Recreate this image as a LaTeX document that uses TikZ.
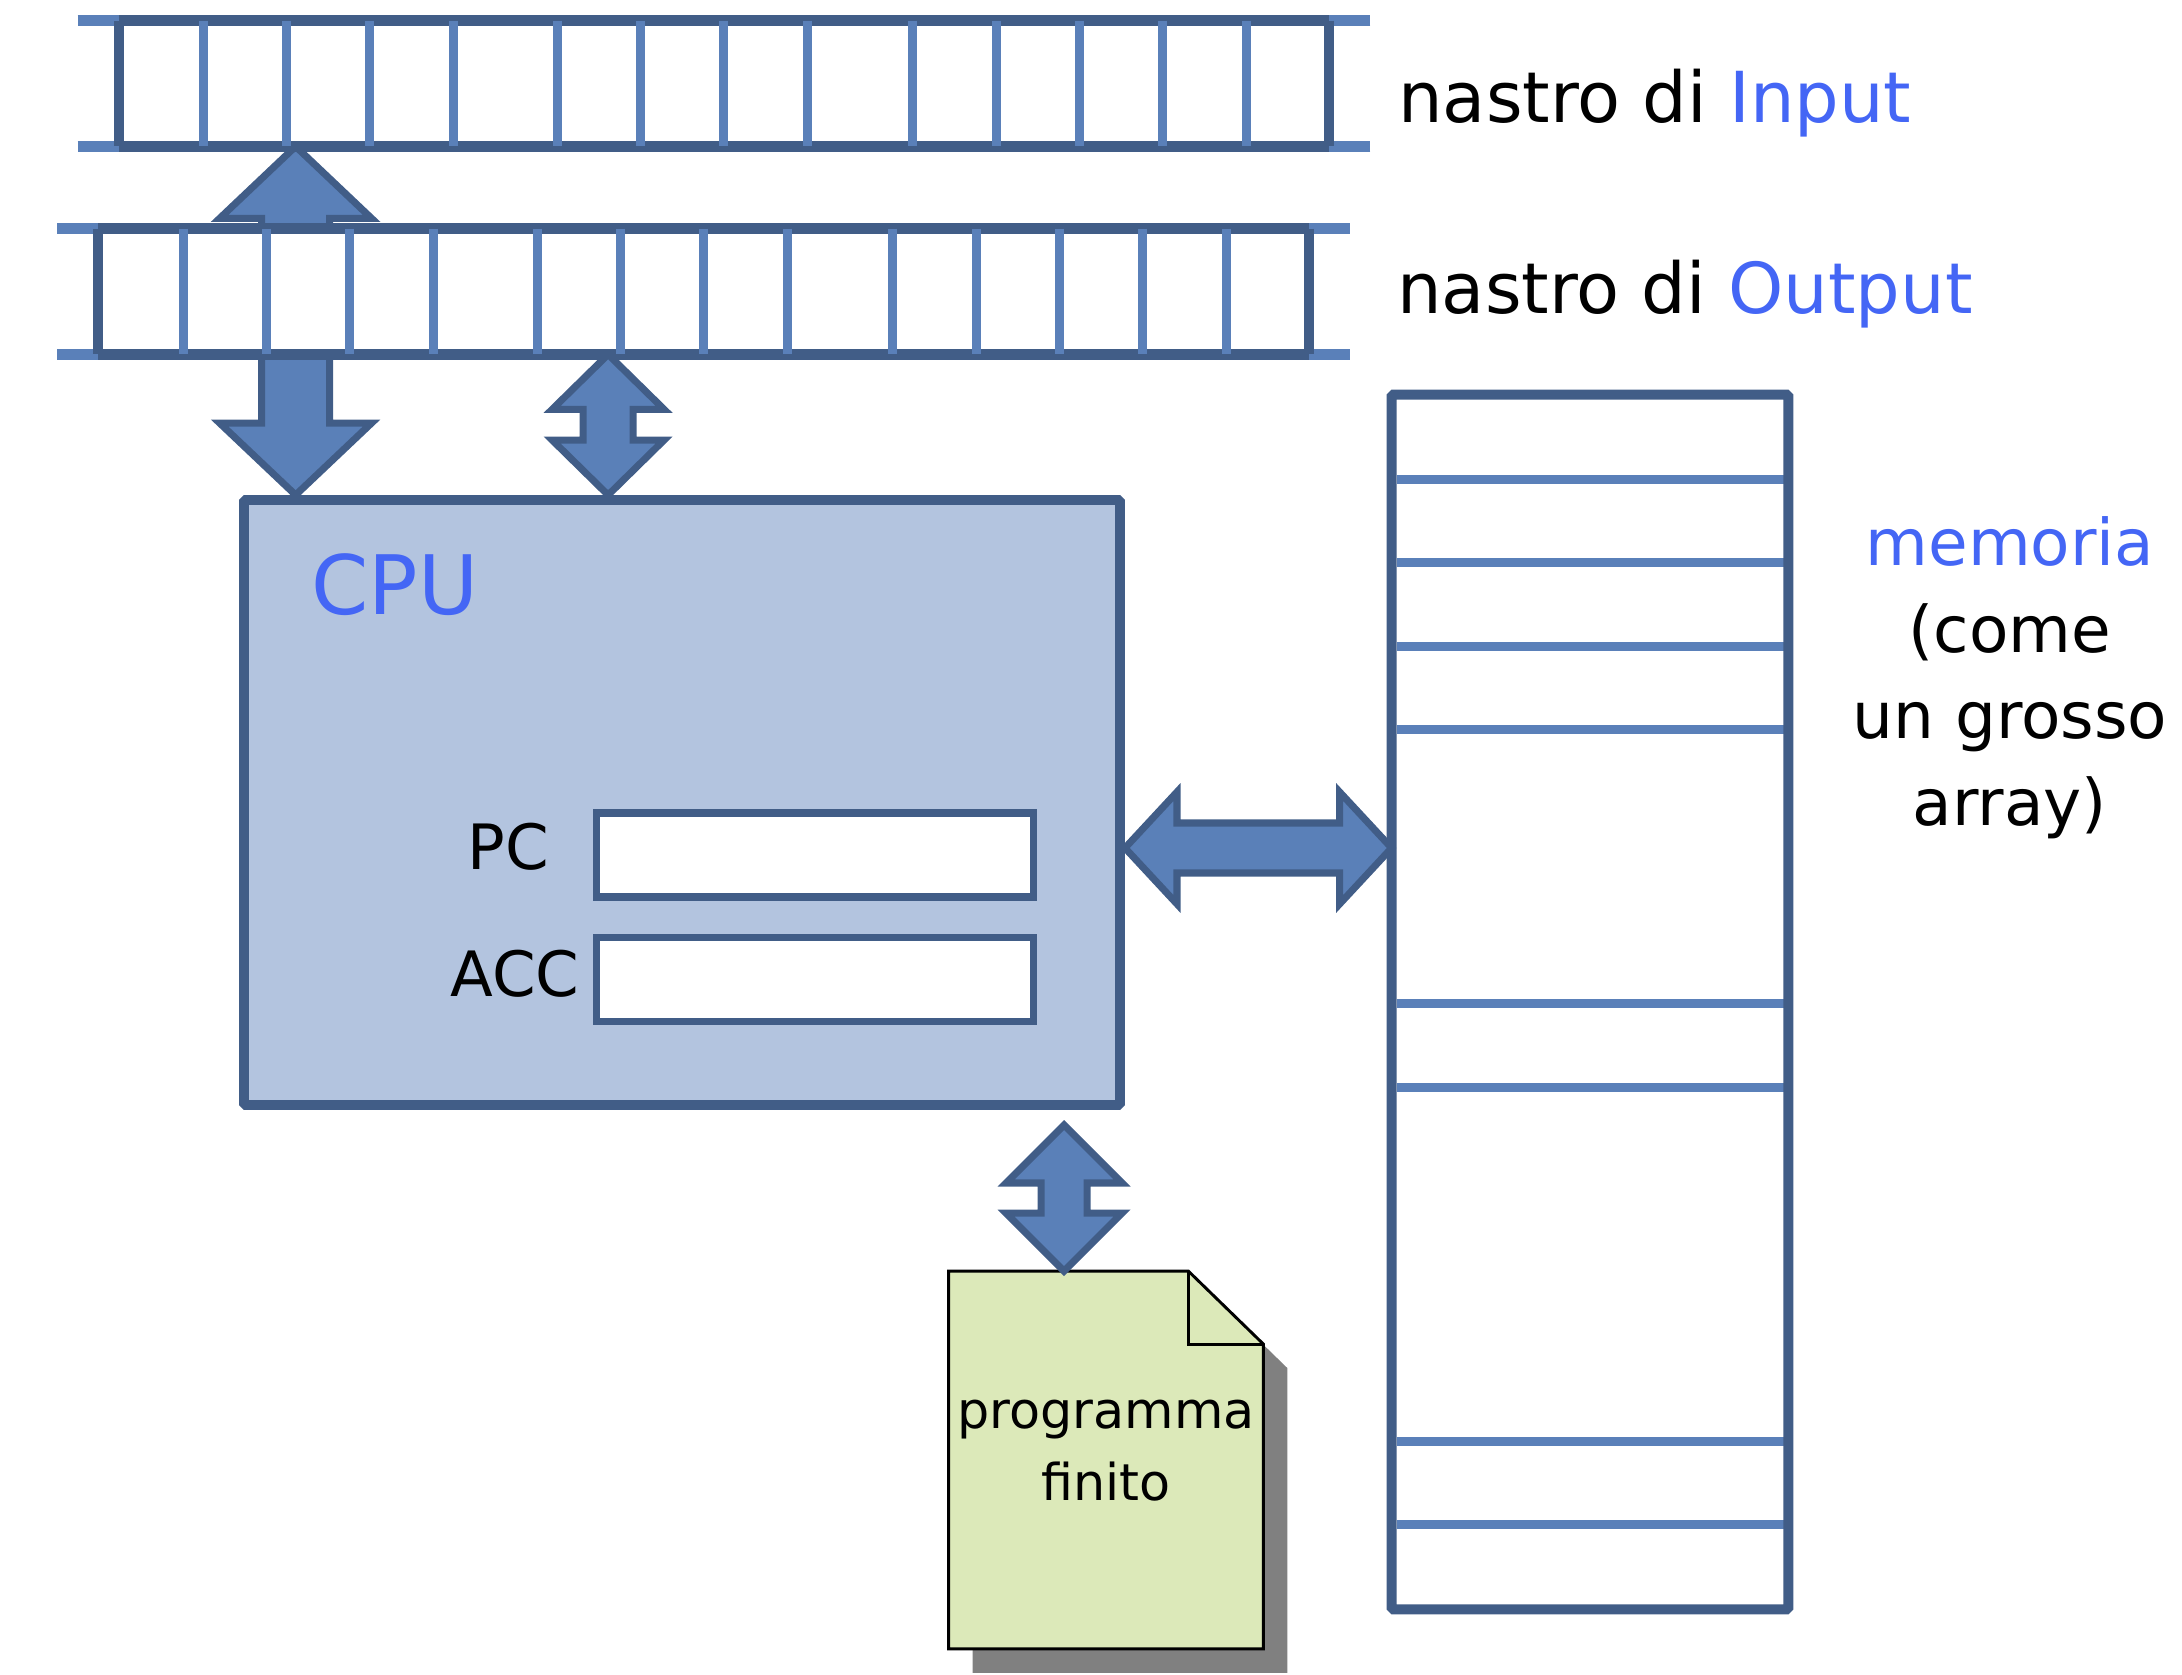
\documentclass[tikz,border=0pt]{standalone}
\usepackage{fontspec}
\setmainfont{DejaVu Sans}
\usetikzlibrary{positioning,calc}
\definecolor{tapedark}{HTML}{415D87}
\definecolor{tapelight}{HTML}{5A80B9}
\definecolor{arrowfill}{HTML}{5A80B8}
\definecolor{cpufill}{HTML}{B3C4DF}
\definecolor{labelblue}{HTML}{4466F5}
\definecolor{progfill}{HTML}{DCE9B9}

\tikzset{
  tapecells/.style={fill=white, inner sep=0pt, minimum width=1210*0.18mm, minimum height=125*0.18mm},
  tapeline/.style={tapedark, line width=5.6pt},
  tapeend/.style={tapelight, line width=5.6pt},
  tapediv/.style={tapelight, line width=4.6pt},
  tapeborder/.style={tapedark, line width=5.1pt},
  fatarrow/.style={fill=arrowfill, draw=tapedark, line width=3.6pt, line join=miter},
  cpubox/.style={fill=cpufill, draw=tapedark, line width=5.1pt, inner sep=0pt, rounded corners=1pt,
    minimum width=876*0.18mm, minimum height=605*0.18mm},
  regbox/.style={fill=white, draw=tapedark, line width=3.6pt, inner sep=0pt,
    minimum width=437*0.18mm, minimum height=84*0.18mm},
  membox/.style={fill=white, inner sep=0pt, minimum width=396*0.18mm, minimum height=1214*0.18mm},
  memdiv/.style={tapelight, line width=4.6pt, shorten <=2.5pt, shorten >=2.5pt},
  progpage/.style={inner sep=0pt, minimum width=314*0.18mm, minimum height=377*0.18mm},
  progline/.style={draw=black, line width=1.5pt, fill=progfill},
  tapelabel/.style={font=\fontsize{36}{43}\selectfont, anchor=base west, inner sep=0pt},
  cpulabel/.style={font=\fontsize{42}{50}\selectfont, text=labelblue, anchor=base west, inner sep=0pt},
  reglabel/.style={font=\fontsize{32}{38}\selectfont, inner sep=0pt},
  memlabel/.style={font=\fontsize{33}{44.4}\selectfont, align=center, anchor=north, inner sep=0pt},
  progtext/.style={font=\fontsize{26}{36.6}\selectfont, align=center, anchor=north, inner sep=0pt}
}

% one tape: name, centre
\newcommand{\tape}[2]{%
  \node[tapecells] (#1) at (#2) {};
  \draw[tapeend] ($(#1.north west)+(-41,0)$) -- (#1.north west) ($(#1.north east)+(41,0)$) -- (#1.north east)
    ($(#1.south west)+(-41,0)$) -- (#1.south west) ($(#1.south east)+(41,0)$) -- (#1.south east);
  \draw[tapeline] (#1.north west) -- (#1.north east) (#1.south west) -- (#1.south east);
  \foreach \d in {85,168,251,335,439,522,605,689,794,878,961,1044,1128}
    \draw[tapediv] ($(#1.north west)+(\d,0)$) -- ($(#1.south west)+(\d,0)$);
  \draw[tapeborder] (#1.north west) -- (#1.south west) (#1.north east) -- (#1.south east);
}

% fat double arrows: tip, other end, half shaft, half head, head length
\newcommand{\vbiarrow}[5]{%
  \coordinate (t) at (#1);
  \coordinate (b) at (t |- #2);
  \draw[fatarrow] (t) -- ($(t)+(#4,-#5)$) -- ($(t)+(#3,-#5)$) -- ($(b)+(#3,#5)$) -- ($(b)+(#4,#5)$) -- (b)
    -- ($(b)+(-#4,#5)$) -- ($(b)+(-#3,#5)$) -- ($(t)+(-#3,-#5)$) -- ($(t)+(-#4,-#5)$) -- cycle;
}
\newcommand{\hbiarrow}[5]{%
  \coordinate (l) at (#1);
  \coordinate (r) at (l -| #2);
  \draw[fatarrow] (l) -- ($(l)+(#5,#4)$) -- ($(l)+(#5,#3)$) -- ($(r)+(-#5,#3)$) -- ($(r)+(-#5,#4)$) -- (r)
    -- ($(r)+(-#5,-#4)$) -- ($(r)+(-#5,-#3)$) -- ($(l)+(#5,-#3)$) -- ($(l)+(#5,-#4)$) -- cycle;
}

\begin{document}
\begin{tikzpicture}[x=0.18mm, y=0.18mm]
  \useasboundingbox (0,0) rectangle (2182,-1674);

  \node[cpubox] (cpu) at (682,-802.5) {};
  \node[tapecells, fill=none] (in) at (724,-83.5) {};
  \vbiarrow{$(in.south west)+(177,0)$}{cpu.north}{34}{76}{72}

  \tape{in}{724,-83.5}
  \tape{out}{703.5,-291.5}

  \vbiarrow{$(out.south west)+(510,0)$}{cpu.north}{25}{56}{55}

  % cpu
  \node[cpulabel] (cpulab) at ($(cpu.north west)+(72,-119)$) {CPU};
  \node[regbox] (pc) at (815,-855) {};
  \node[regbox, below=6.1mm of pc] (acc) {};
  \node[reglabel] (pclab) at ($(pc.west)+(-85,8)$) {PC};
  \node[reglabel] (acclab) at ($(acc.west)+(-78,6)$) {ACC};

  % memory
  \node[membox] (mem) at (1590,-1002) {};
  \foreach \d in {85,168,252,335,609,693,1047,1130}
    \draw[memdiv] ($(mem.north west)+(0,-\d)$) -- ($(mem.north east)+(0,-\d)$);
  \draw[tapedark, line width=5.1pt, rounded corners=1pt] (mem.north west) rectangle (mem.south east);
  \hbiarrow{$(cpu.south east)+(0,262)$}{mem.west}{25}{56}{52}

  % program
  \node[progpage] (prog) at (1106,-1460) {};
  \fill[gray] ($(prog.north west)+(24,-24)$) -- ($(prog.north east)+(-51,-24)$) -- ($(prog.north east)+(24,-97)$)
    -- ($(prog.south east)+(24,-24)$) -- ($(prog.south west)+(24,-24)$) -- cycle;
  \draw[progline] (prog.north west) -- ($(prog.north east)+(-75,0)$) -- ($(prog.north east)+(0,-73)$)
    -- (prog.south east) -- (prog.south west) -- cycle;
  \draw[black, line width=1.5pt] ($(prog.north east)+(-75,0)$) -- ($(prog.north east)+(-75,-73)$) -- ($(prog.north east)+(0,-73)$);
  \vbiarrow{$(cpu.south west)+(825,-15)$}{prog.north}{23}{58}{58}
  \node[progtext] (progtxt) at (1106,-1400) {programma\\finito};

  % labels
  \node[tapelabel] (inlab) at (1398,-122) {nastro di \textcolor{labelblue}{Input}};
  \node[tapelabel] (outlab) at (1397,-313) {nastro di \textcolor{labelblue}{Output}};
  \node[memlabel] (memlab) at (2010,-516) {\textcolor{labelblue}{memoria}\\(come\\un grosso\\array)};
\end{tikzpicture}
\end{document}
